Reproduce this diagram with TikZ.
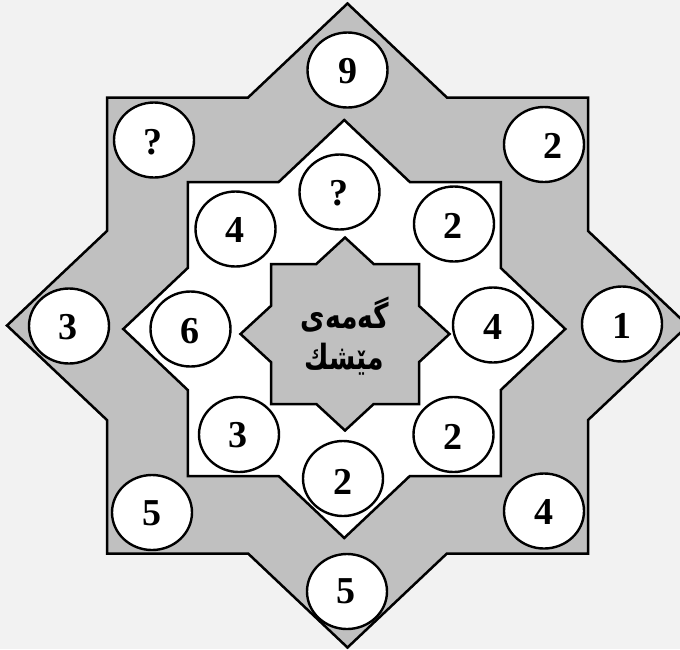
\documentclass[tikz,border=0pt]{standalone}
\usepackage{fontspec}
\usepackage{graphicx}
\setmainfont{Liberation Serif}
\newfontfamily\arabicfont[Script=Arabic]{DejaVu Sans}
\TeXXeTstate=1
\usetikzlibrary{shapes.geometric}
\definecolor{bgcol}{HTML}{F2F2F2}
\definecolor{stargrey}{HTML}{C0C0C0}
% cx, cy, diamond half-width, diamond half-height, square half-width, square half-height, style
\newcommand{\eightstar}[7]{%
  \pgfmathsetmacro\sdx{#3*(1-#6/#4)}%
  \pgfmathsetmacro\sdy{#4*(1-#5/#3)}%
  \draw[#7] (#1,#2-#4) -- (#1+\sdx,#2-#6) -- (#1+#5,#2-#6) -- (#1+#5,#2-\sdy)
    -- (#1+#3,#2) -- (#1+#5,#2+\sdy) -- (#1+#5,#2+#6) -- (#1+\sdx,#2+#6)
    -- (#1,#2+#4) -- (#1-\sdx,#2+#6) -- (#1-#5,#2+#6) -- (#1-#5,#2+\sdy)
    -- (#1-#3,#2) -- (#1-#5,#2-\sdy) -- (#1-#5,#2-#6) -- (#1-\sdx,#2-#6) -- cycle;}
\newcommand{\kurdtext}[1]{\scalebox{0.86}[1.12]{\beginR #1\endR}}
\begin{document}
\begin{tikzpicture}[x=1pt,y=-1pt,
  edge/.style={draw=black,line width=2.5pt,line join=miter},
  ell/.style={ellipse,draw=black,fill=white,line width=2.4pt,
    minimum width=80pt,minimum height=75pt,inner sep=0pt},
  num/.style={font=\fontsize{38}{38}\selectfont\bfseries,inner sep=0pt},
  kurd/.style={font=\fontsize{31}{31}\selectfont\arabicfont\bfseries,inner sep=0pt}]
\useasboundingbox (0,0) rectangle (680,649);
\clip (0,0) rectangle (680,649);
\fill[bgcol] (0,0) rectangle (680,649);
% stars
\eightstar{347.5}{325.5}{340.5}{322}{240.5}{228}{edge,fill=stargrey}
\eightstar{344.25}{329}{221}{209}{156.5}{147}{edge,fill=white}
\eightstar{345}{334}{104.5}{96.5}{74}{70}{edge,fill=stargrey}
% outer ring
\node[ell] (o9) at (347.5,70) {};
\node[ell] (oq) at (154,140) {};
\node[ell] (o2) at (544,144.5) {};
\node[ell] (o3) at (69,326) {};
\node[ell] (o1) at (622,324) {};
\node[ell] (o5a) at (152,512.5) {};
\node[ell] (o4) at (544,511) {};
\node[ell] (o5b) at (347,591.5) {};
% middle ring
\node[ell] (mq) at (339.5,192) {};
\node[ell] (m4a) at (235.5,229) {};
\node[ell] (m2a) at (454,224) {};
\node[ell] (m6) at (190.5,329) {};
\node[ell] (m4b) at (493,325) {};
\node[ell] (m3) at (239,434.5) {};
\node[ell] (m2b) at (453.5,434.5) {};
\node[ell] (m2c) at (343,478.5) {};
% numbers
\node[num] (t9) at (348,71) {9};
\node[num] (tq) at (153,142) {?};
\node[num] (t2) at (553,146) {2};
\node[num] (t3) at (68,327) {3};
\node[num] (t1) at (622,326) {1};
\node[num] (t5a) at (152,513) {5};
\node[num] (t4) at (544,512) {4};
\node[num] (t5b) at (346,591) {5};
\node[num] (sq) at (339,193) {?};
\node[num] (s4a) at (235,230) {4};
\node[num] (s2a) at (453,226) {2};
\node[num] (s6) at (190,331) {6};
\node[num] (s4b) at (493,327) {4};
\node[num] (s3) at (238,435) {3};
\node[num] (s2b) at (453,437) {2};
\node[num] (s2c) at (343,482) {2};
% centre text
\node[kurd] (k1) at (345,315) {\kurdtext{گەمەی}};
\node[kurd] (k2) at (344,359) {\kurdtext{مێشك}};
\end{tikzpicture}
\end{document}
